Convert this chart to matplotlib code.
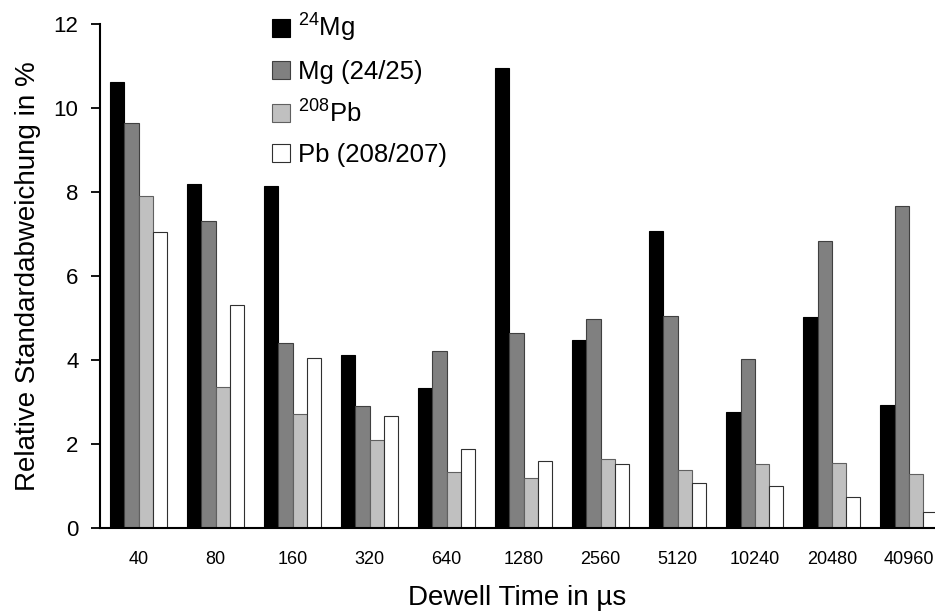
import numpy as np
import matplotlib.pyplot as plt

plt.rcParams['font.family'] = ['Liberation Sans', 'DejaVu Sans']
plt.rcParams['mathtext.fontset'] = 'custom'
plt.rcParams['mathtext.rm'] = 'Liberation Sans'
plt.rcParams['mathtext.it'] = 'Liberation Sans'

# dwell times in microseconds
dwell = ['40', '80', '160', '320', '640', '1280', '2560', '5120', '10240', '20480', '40960']

# relative standard deviation in %
mg24 = [10.62, 8.2, 8.15, 4.12, 3.32, 10.95, 4.48, 7.06, 2.76, 5.03, 2.93]
mg_ratio = [9.65, 7.3, 4.4, 2.9, 4.22, 4.63, 4.98, 5.05, 4.03, 6.84, 7.66]
pb208 = [7.9, 3.35, 2.7, 2.08, 1.32, 1.18, 1.63, 1.37, 1.52, 1.55, 1.27]
pb_ratio = [7.05, 5.3, 4.05, 2.65, 1.87, 1.6, 1.52, 1.07, 1.0, 0.73, 0.38]

series = [
    (mg24, '$^{24}$Mg', 'black', 'black'),
    (mg_ratio, 'Mg (24/25)', '#808080', '#404040'),
    (pb208, '$^{208}$Pb', '#c0c0c0', '#606060'),
    (pb_ratio, 'Pb (208/207)', 'white', '#303030'),
]

fig = plt.figure(figsize=(9.35, 6.11), dpi=100)
ax = fig.add_axes([0.107, 0.1363, 0.893, 0.8244])

x = np.arange(len(dwell))
w = 0.185
for k, (vals, lab, fc, ec) in enumerate(series):
    ax.bar(x + (k - 1.5) * w, vals, w, color=fc, edgecolor=ec, linewidth=0.8, label=lab)

ax.set_xlim(-0.5, 10.34)
ax.set_ylim(0, 12)
ax.set_yticks([0, 2, 4, 6, 8, 10, 12])
ax.set_xticks(x)
ax.set_xticklabels(dwell)
ax.tick_params(axis='y', labelsize=16, length=6.5, width=1.3, direction='out', pad=9)
ax.tick_params(axis='x', labelsize=13, length=0, pad=17)

ax.spines['top'].set_visible(False)
ax.spines['right'].set_visible(False)
ax.spines['left'].set_linewidth(1.5)
ax.spines['bottom'].set_linewidth(1.5)

ax.set_ylabel('Relative Standardabweichung in %', fontsize=20, labelpad=9)
ax.set_xlabel('Dewell Time in µs', fontsize=20, labelpad=12)

ax.legend(loc='upper left', bbox_to_anchor=(0.28, 0.997), bbox_transform=fig.transFigure,
          frameon=False, fontsize=18.5, handlelength=0.7, handleheight=0.7,
          handletextpad=0.3, labelspacing=0.62, borderaxespad=0)

fig.savefig('out.png', dpi=100)
